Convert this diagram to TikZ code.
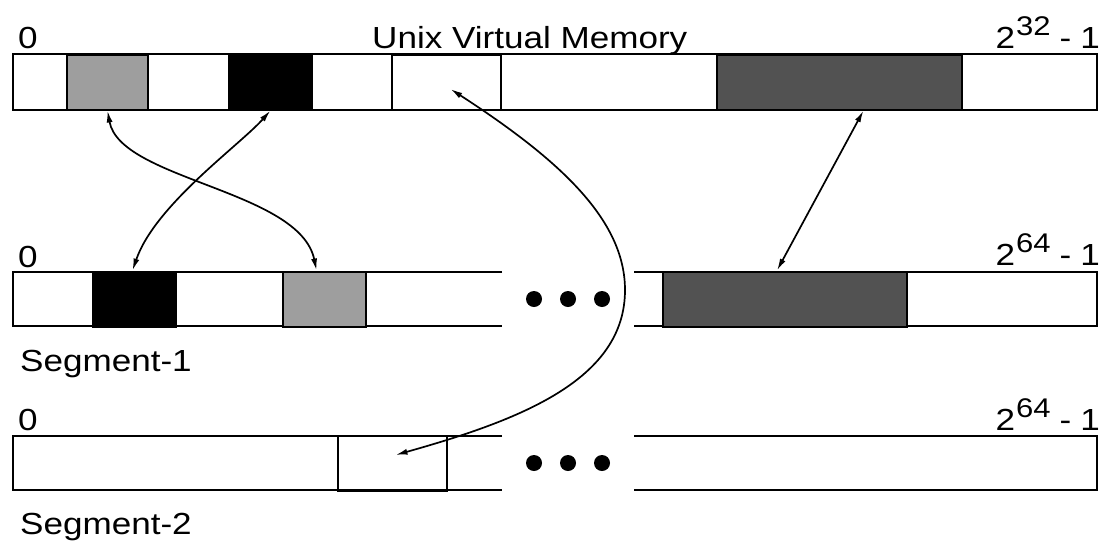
\documentclass[tikz,border=0pt]{standalone}
\usepackage{fontspec}
\setmainfont[FakeStretch=1.15]{Liberation Sans}
\usepackage{tikz}
\usetikzlibrary{arrows.meta}
\definecolor{lightpage}{gray}{0.62}
\definecolor{darkpage}{gray}{0.32}

\begin{document}
\begin{tikzpicture}[x=1pt,y=-1pt,
  edge/.style={line width=2pt},
  blk/.style={draw,line width=2pt,inner sep=0pt,minimum height=55pt},
  lbl/.style={inner sep=0pt,font=\fontsize{30.5}{36}\selectfont},
  link/.style={line width=1.7pt,{Latex[length=12pt,width=6pt]}-{Latex[length=12pt,width=6pt]}},
  dot/.style={circle,fill=black,inner sep=0pt,minimum size=16pt}]
\useasboundingbox (0,0) rectangle (1105,544);

% Unix virtual memory
\draw[edge] (13,54) rectangle (1097,110);
\node[blk,fill=lightpage,minimum width=81pt] (uA) at (107.5,82) {};
\node[blk,fill=black,minimum width=83pt] (uB) at (270.5,82) {};
\node[blk,minimum width=109pt] (uE) at (446.5,82) {};
\node[blk,fill=darkpage,minimum width=245pt] (uC) at (839.5,82) {};
\node[lbl,anchor=base west] (u0) at (18,48) {0};
\node[lbl,anchor=base west] (utitle) at (372,48) {Unix Virtual Memory};
\node[lbl,anchor=base east] (umax) at (1100,48)
  {2\hspace{1pt}\raisebox{13pt}{\fontsize{27}{30}\selectfont 32}\hspace{9pt}-\hspace{9pt}1};

% segment 1
\draw[edge] (502,272) -- (13,272) -- (13,326) -- (502,326);
\draw[edge] (634,272) -- (1097,272) -- (1097,326) -- (634,326);
\node[blk,fill=black,minimum width=83pt] (s1A) at (134.5,299) {};
\node[blk,fill=lightpage,minimum width=83pt] (s1B) at (324.5,299) {};
\node[blk,fill=darkpage,minimum width=244pt] (s1C) at (785,299) {};
\node[lbl,anchor=base west] (s10) at (18,267) {0};
\node[lbl,anchor=base east] (s1max) at (1100,265)
  {2\hspace{1pt}\raisebox{13pt}{\fontsize{27}{30}\selectfont 64}\hspace{9pt}-\hspace{9pt}1};
\node[lbl,anchor=base west] (s1name) at (20,371) {Segment-1};

% segment 2
\draw[edge] (502,436) -- (13,436) -- (13,490) -- (502,490);
\draw[edge] (634,436) -- (1097,436) -- (1097,490) -- (634,490);
\node[blk,minimum width=109pt] (s2A) at (392.5,463) {};
\node[lbl,anchor=base west] (s20) at (18,430) {0};
\node[lbl,anchor=base east] (s2max) at (1100,430)
  {2\hspace{1pt}\raisebox{13pt}{\fontsize{27}{30}\selectfont 64}\hspace{9pt}-\hspace{9pt}1};
\node[lbl,anchor=base west] (s2name) at (20,534) {Segment-2};

\foreach \x in {534,568,602} {
  \node[dot] (d1-\x) at (\x,299) {};
  \node[dot] (d2-\x) at (\x,463) {};
}

% mappings
\draw[link] (uA.south) .. controls (120,180) and (300,190) .. ([xshift=-8pt]s1B.north);
\draw[link] (uB.south) .. controls (240,145) and (155,205) .. ([xshift=-2pt]s1A.north);
\draw[link] ([xshift=24pt]uC.south) -- ([xshift=-8pt]s1C.north);
\draw[link] ([xshift=4pt,yshift=-7pt]uE.center) .. controls (560,160) and (625,220) .. (625,290)
  .. controls (625,380) and (520,420) .. ([xshift=3pt,yshift=8pt]s2A.center);
\end{tikzpicture}
\end{document}
